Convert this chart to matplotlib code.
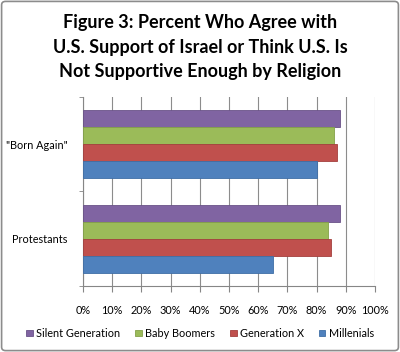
import matplotlib
matplotlib.use("Agg")
import matplotlib.pyplot as plt
from matplotlib.patches import FancyBboxPatch
import numpy as np

categories = ["Protestants", "\"Born Again\""]
series_names = ["Silent Generation", "Baby Boomers", "Generation X", "Millenials"]
silent = [88, 88]
boomers = [84, 86]
genx = [85, 87]
millenials = [65, 80]
colors = ["#8064A2", "#9BBB59", "#C0504D", "#4F81BD"]
edges = ["#6a5288", "#84a148", "#a4403d", "#3f6ea6"]
xticks = list(range(0, 101, 10))
xticklabels = [f"{v}%" for v in xticks]

plt.rcParams['font.family'] = ['Lato', 'DejaVu Sans']

fig = plt.figure(figsize=(4.0, 3.52), dpi=100)
fig.patches.append(FancyBboxPatch((0.004, 0.004), 0.992, 0.992, boxstyle="round,pad=0,rounding_size=0.01",
                                  transform=fig.transFigure, fill=False, edgecolor="#8c8c8c", linewidth=1.2))
ax = fig.add_axes([0.2075, 0.1875, 0.73, 0.537])

values = [silent, boomers, genx, millenials]
h = 0.18
offsets = [1.5 * h, 0.5 * h, -0.5 * h, -1.5 * h]
y = np.arange(len(categories))
for vals, off, c, ec, name in zip(values, offsets, colors, edges, series_names):
    ax.barh(y + off, vals, height=h, color=c, edgecolor=ec, linewidth=0.6, label=name, zorder=3)

ax.set_xlim(0, 100)
ax.set_ylim(-0.5, 1.5)
ax.set_xticks(xticks)
ax.set_xticklabels(xticklabels, fontsize=7.8)
ax.set_yticks(y)
ax.set_yticklabels(categories, fontsize=7.8)
ax.tick_params(axis='y', length=0, pad=11)
ax.set_yticks([-0.5, 0.5, 1.5], minor=True)
ax.tick_params(axis='y', which='minor', length=3, color="#868686")
ax.tick_params(axis='x', length=4, color="#868686", pad=10)
ax.grid(axis='x', color="#8c8c8c", linewidth=0.8, zorder=0)
for s in ['top', 'right']:
    ax.spines[s].set_visible(False)
ax.spines['left'].set_color("#868686")
ax.spines['bottom'].set_color("#868686")

fig.text(0.5, 0.935, "Figure 3: Percent Who Agree with", ha='center', va='center', fontsize=13, fontweight='bold')
fig.text(0.5, 0.866, "U.S. Support of Israel or Think U.S. Is", ha='center', va='center', fontsize=13, fontweight='bold')
fig.text(0.5, 0.797, "Not Supportive Enough by Religion", ha='center', va='center', fontsize=13, fontweight='bold')

handles, labels = ax.get_legend_handles_labels()
leg = fig.legend(handles, labels, loc='center', bbox_to_anchor=(0.5, 0.053), ncol=4, frameon=False,
                 fontsize=7.8, handlelength=0.6, handleheight=0.6, handletextpad=0.3, columnspacing=1.4)

fig.savefig("out.png", dpi=100)
